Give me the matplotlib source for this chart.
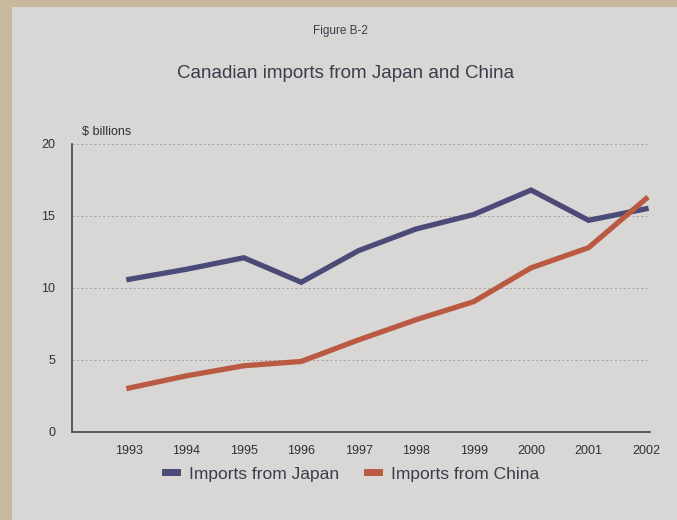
import matplotlib.pyplot as plt
from matplotlib.patches import Rectangle

plt.rcParams['font.family'] = ['Liberation Sans', 'DejaVu Sans']

years = [1993, 1994, 1995, 1996, 1997, 1998, 1999, 2000, 2001, 2002]
japan = [10.6, 11.3, 12.1, 10.4, 12.6, 14.1, 15.1, 16.8, 14.7, 15.5]
china = [3.05, 3.9, 4.6, 4.9, 6.4, 7.8, 9.05, 11.4, 12.8, 16.2]
yticks = [0, 5, 10, 15, 20]

japan_color = '#4b4a78'
china_color = '#bb5a43'
text_color = '#3c3c4c'
panel = '#d8d7d5'

fig = plt.figure(figsize=(6.77, 5.2), dpi=100)
fig.patch.set_facecolor('#c8b89d')
# light paper panel inside the tan border
fig.patches.append(Rectangle((12 / 677, 0), 1, 1 - 7 / 520,
                             transform=fig.transFigure,
                             facecolor=panel, edgecolor='none', zorder=-10))

W, H = 677, 520
ax = fig.add_axes([72 / W, 1 - 432 / H, (650 - 72) / W, (432 - 144) / H])
ax.set_facecolor('none')

ax.plot(years, japan, color=japan_color, lw=3.8, solid_joinstyle='miter',
        label='Imports from Japan')
ax.plot(years, china, color=china_color, lw=3.8, solid_joinstyle='miter',
        label='Imports from China')

ax.set_xlim(1992.01, 2002.07)
ax.set_ylim(0, 20)
ax.set_xticks(years)
ax.set_xticklabels([str(y) for y in years])
ax.set_yticks(yticks)
ax.tick_params(length=0, labelsize=9, colors='#303030')
ax.tick_params(axis='x', pad=9)
ax.tick_params(axis='y', pad=12)

for y in yticks[1:]:
    ax.axhline(y, color='#a3a3a3', lw=0.7, ls=(0, (2, 2.5)), zorder=0)

for s in ['top', 'right']:
    ax.spines[s].set_visible(False)
for s in ['left', 'bottom']:
    ax.spines[s].set_color('#444444')
    ax.spines[s].set_linewidth(1.2)

ax.text(0.018, 1.02, r'\$ billions', transform=ax.transAxes, fontsize=9,
        color='#303030', va='bottom')

fig.text(340 / W, 1 - 31 / H, 'Figure B-2', ha='center', va='center',
         fontsize=8.5, color=text_color)
fig.text(346 / W, 1 - 73 / H, 'Canadian imports from Japan and China',
         ha='center', va='center', fontsize=13.5, color=text_color)

leg = fig.legend(loc='center', bbox_to_anchor=(352 / W, 1 - 474 / H), ncol=2,
                 frameon=False, fontsize=12.5, handlelength=0.7,
                 handletextpad=0.7, columnspacing=1.6, labelcolor=text_color)
for line in leg.get_lines():
    line.set_linewidth(5)

fig.savefig('out.png', dpi=100, facecolor=fig.get_facecolor())
